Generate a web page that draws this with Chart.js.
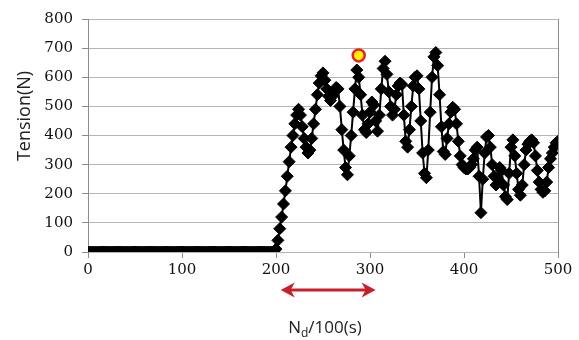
<!DOCTYPE html>
<html>
<head>
<meta charset="utf-8">
<script src="https://cdn.jsdelivr.net/npm/chart.js@4.4.0/dist/chart.umd.min.js"></script>
<style>
  html, body { margin: 0; padding: 0; background: #fff; }
  #wrap { width: 579px; height: 340px; }
</style>
</head>
<body>
<div id="wrap"><canvas id="tension"></canvas></div>
<script>
// sample step of Nd/100 (s)
const tStep = 2;
// tension (N), one value every tStep from 0 to 500
const tension = [
  0,0,0,0,0,0,0,0,0,0, 0,0,0,0,0,0,0,0,0,0,
  0,0,0,0,0,0,0,0,0,0, 0,0,0,0,0,0,0,0,0,0,
  0,0,0,0,0,0,0,0,0,0, 0,0,0,0,0,0,0,0,0,0,
  0,0,0,0,0,0,0,0,0,0, 0,0,0,0,0,0,0,0,0,0,
  0,0,0,0,0,0,0,0,0,0, 0,0,0,0,0,0,0,0,0,0,
  // 200
  10,40,80,120,165,210,260,310,360,400,
  440,470,490,470,430,390,360,340,350,390,
  // 240
  440,490,540,580,605,615,590,560,535,520,
  535,550,565,560,500,420,350,290,265,330,
  // 280
  400,480,560,625,600,540,470,420,410,440,
  480,515,505,450,415,470,560,630,655,610,
  // 320
  550,500,470,490,540,570,580,575,470,380,
  360,420,500,570,600,605,560,450,340,270,
  // 360
  255,350,480,600,670,685,640,540,430,345,
  335,390,440,480,497,490,440,380,330,300,
  // 400
  290,285,285,290,300,320,350,360,260,135,
  250,340,395,400,360,300,260,230,250,290,
  // 440
  280,230,190,180,270,360,385,330,270,215,
  195,230,300,350,370,380,385,375,330,280,
  // 480
  240,215,205,210,240,290,320,340,360,375,
  380
];
// highlighted maximum (yellow circle)
const peakX = [288];
const peakY = [675];
// red arrow span under the axis
const arrowSpan = [205, 306];
const yTicks = [0, 100, 200, 300, 400, 500, 600, 700, 800];

const points = tension.map((v, i) => ({x: i * tStep, y: v}));
const peak = peakX.map((x, i) => ({x: x, y: peakY[i]}));

const extras = {
  id: 'extras',
  afterDraw(chart) {
    const ctx = chart.ctx;
    const area = chart.chartArea;
    const xs = chart.scales.x;
    ctx.save();
    // right frame line
    ctx.strokeStyle = '#8c8c8c';
    ctx.lineWidth = 1;
    ctx.beginPath();
    ctx.moveTo(Math.round(area.right) + 0.5, area.top);
    ctx.lineTo(Math.round(area.right) + 0.5, area.bottom + 6);
    ctx.stroke();

    // red double arrow
    const x1 = xs.getPixelForValue(arrowSpan[0]);
    const x2 = xs.getPixelForValue(arrowSpan[1]);
    const ay = area.bottom + 38;
    ctx.strokeStyle = '#c8202a';
    ctx.fillStyle = '#c8202a';
    ctx.lineWidth = 3;
    ctx.beginPath();
    ctx.moveTo(x1 + 8, ay);
    ctx.lineTo(x2 - 8, ay);
    ctx.stroke();
    ctx.beginPath();
    ctx.moveTo(x1, ay);
    ctx.lineTo(x1 + 14, ay - 7.5);
    ctx.lineTo(x1 + 10, ay);
    ctx.lineTo(x1 + 14, ay + 7.5);
    ctx.closePath();
    ctx.fill();
    ctx.beginPath();
    ctx.moveTo(x2, ay);
    ctx.lineTo(x2 - 14, ay - 7.5);
    ctx.lineTo(x2 - 10, ay);
    ctx.lineTo(x2 - 14, ay + 7.5);
    ctx.closePath();
    ctx.fill();

    // y title
    ctx.fillStyle = '#222';
    ctx.font = '18px "Open Sans"';
    ctx.textAlign = 'center';
    ctx.textBaseline = 'middle';
    ctx.save();
    ctx.translate(25, 116);
    ctx.rotate(-Math.PI / 2);
    ctx.fillText('Tension(N)', 0, 0);
    ctx.restore();

    // x title with subscript d
    const big = '17px "Open Sans"';
    const small = '12px "Open Sans"';
    ctx.textAlign = 'left';
    ctx.textBaseline = 'alphabetic';
    ctx.font = big;
    const wN = ctx.measureText('N').width;
    const wRest = ctx.measureText('/100(s)').width;
    ctx.font = small;
    const wd = ctx.measureText('d').width;
    let tx = 325 - (wN + wd + wRest) / 2;
    const ty = area.bottom + 81;
    ctx.font = big;
    ctx.fillText('N', tx, ty);
    tx += wN;
    ctx.font = small;
    ctx.fillText('d', tx, ty + 4);
    tx += wd;
    ctx.font = big;
    ctx.fillText('/100(s)', tx, ty);
    ctx.restore();
  }
};

const tickFont = { family: '"DejaVu Serif", serif', size: 15 };

new Chart(
  document.getElementById('tension'),
  {
    type: 'line',
    data: {
      datasets: [
        {
          label: 'peak',
          data: peak,
          showLine: false,
          pointStyle: 'circle',
          pointRadius: 6,
          pointBackgroundColor: '#fff200',
          pointBorderColor: '#e8202a',
          pointBorderWidth: 2.5
        },
        {
          label: 'Tension',
          data: points,
          borderColor: '#000',
          borderWidth: 2,
          pointStyle: 'rectRot',
          pointRadius: 6,
          pointBackgroundColor: '#000',
          pointBorderColor: '#000',
          pointBorderWidth: 1,
          tension: 0
        }
      ]
    },
    options: {
      responsive: true,
      maintainAspectRatio: false,
      animation: false,
      events: [],
      layout: { padding: { top: 19, right: 21, left: 0, bottom: 0 } },
      plugins: {
        legend: { display: false },
        tooltip: { enabled: false }
      },
      scales: {
        x: {
          type: 'linear',
          min: 0,
          max: 500,
          afterFit: s => { s.height = 88; },
          ticks: {
            stepSize: 100,
            color: '#111',
            padding: 3,
            font: tickFont
          },
          grid: {
            drawOnChartArea: false,
            drawTicks: true,
            tickLength: 6,
            color: '#8c8c8c'
          },
          border: { display: true, color: '#b5b5b5', width: 1 }
        },
        y: {
          min: 0,
          max: 800,
          afterFit: s => { s.width = 88; },
          afterBuildTicks: s => { s.ticks = yTicks.map(v => ({value: v})); },
          ticks: {
            color: '#111',
            padding: 9,
            font: tickFont
          },
          grid: {
            color: '#b5b5b5',
            tickLength: 6,
            tickColor: '#8c8c8c'
          },
          border: { display: true, color: '#8c8c8c', width: 1 }
        }
      }
    },
    plugins: [extras]
  }
);
</script>
</body>
</html>
